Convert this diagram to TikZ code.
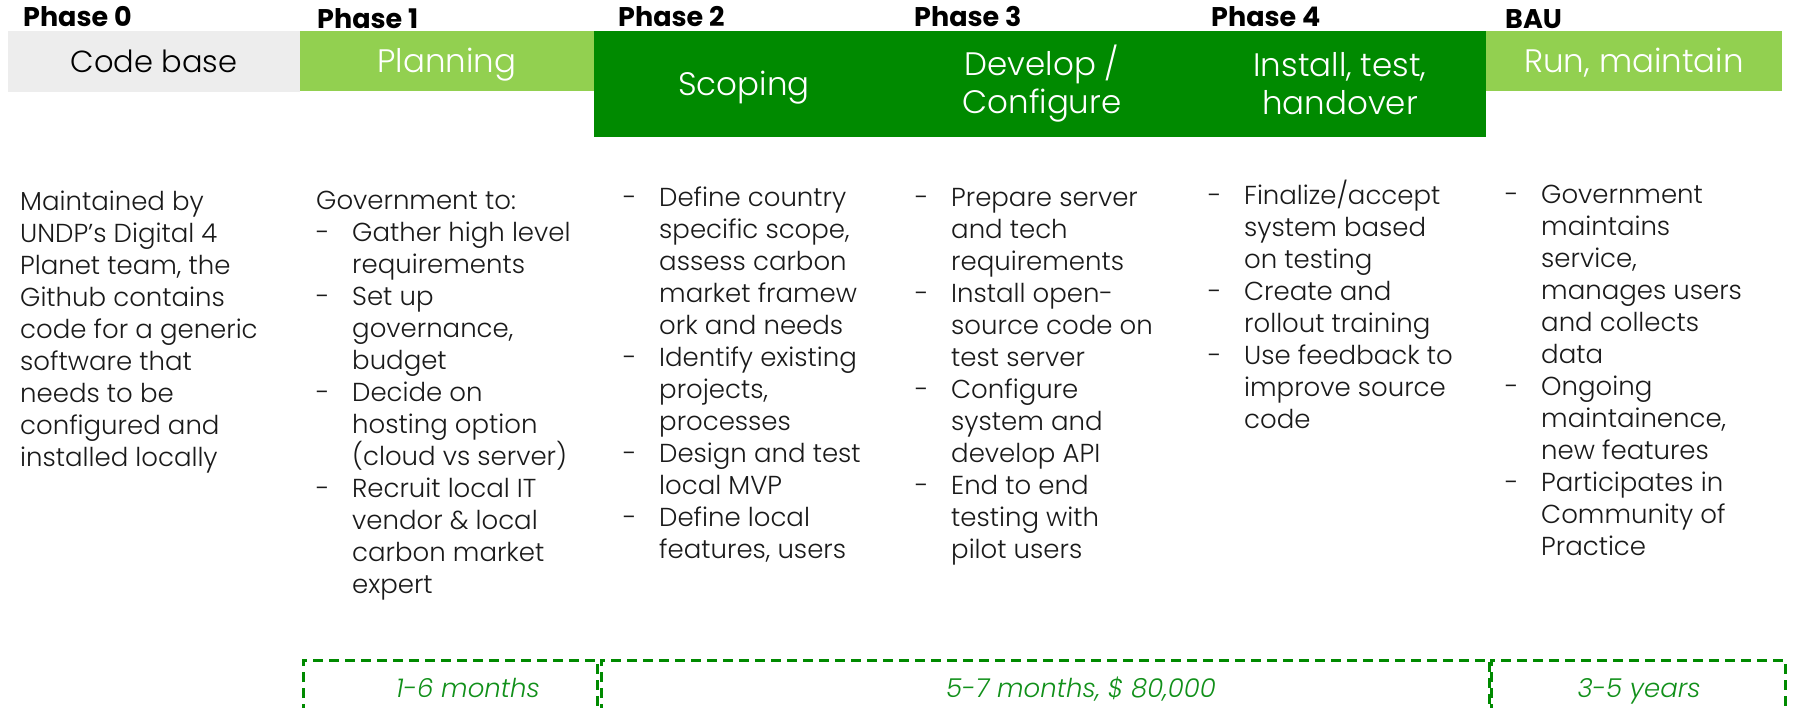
\documentclass[tikz,border=0pt]{standalone}
\usepackage{fontspec}
\setmainfont{Poppins}
\newfontfamily\lightfont{Poppins Light}
\definecolor{lgreen}{HTML}{92D050}
\definecolor{dgreen}{HTML}{008A00}
\definecolor{cbgrey}{HTML}{EDEDED}
\definecolor{txt}{HTML}{1A1A1A}
\definecolor{durgreen}{HTML}{11901A}
\newcommand{\bitem}{\makebox[36pt][l]{-}}
\newcommand{\bcont}{\hspace*{36pt}}
\newcommand{\bodyfont}{\lightfont\fontsize{26}{32}\selectfont}
\tikzset{
  hdrbox/.style={rectangle, inner sep=0pt, outer sep=0pt, anchor=north west},
  hdrtext/.style={inner sep=0pt, align=center, font=\lightfont\fontsize{32.5}{38}\selectfont},
  phaselabel/.style={inner sep=0pt, anchor=base west, font=\fontsize{27}{30}\selectfont\bfseries, text=black},
  bodycol/.style={inner sep=0pt, anchor=base west, text=txt},
  durbox/.style={draw=dgreen, line width=3pt, dash pattern=on 10pt off 6pt},
  durtext/.style={inner sep=0pt, anchor=base, text=durgreen, font=\lightfont\fontsize{26}{32}\selectfont\itshape}
}
\begin{document}
\begin{tikzpicture}[x=1pt,y=-1pt]
\useasboundingbox (0,0) rectangle (1795,708);
\fill[white] (0,0) rectangle (1795,708);

% phase labels
\node[phaselabel] (p0) at (23,26.7) {Phase 0};
\node[phaselabel] (p1) at (317,28.3) {Phase 1};
\node[phaselabel] (p2) at (618,26.7) {Phase 2};
\node[phaselabel] (p3) at (914,26.7) {Phase 3};
\node[phaselabel] (p4) at (1211,26.7) {Phase 4};
\node[phaselabel] (pb) at (1505,28.3) {BAU};

% header boxes
\node[hdrbox, fill=cbgrey, minimum width=292pt, minimum height=61pt] (cbbox) at (8,31) {};
\node[hdrbox, fill=lgreen, minimum width=294pt, minimum height=60pt] (plbox) at (300,31) {};
\node[hdrbox, fill=dgreen, minimum width=892pt, minimum height=106pt] (dkbox) at (594,31) {};
\node[hdrbox, fill=lgreen, minimum width=296pt, minimum height=60pt] (rmbox) at (1486,31) {};

\node[hdrtext, text=black, anchor=base, font=\lightfont\fontsize{30.5}{38}\selectfont] (cbt) at (154,72.7) {Code base};
\node[hdrtext, text=white, anchor=base] (plt) at (447,73) {Planning};
\node[hdrtext, text=white, anchor=base] (sct) at (744,96) {Scoping};
\node[hdrtext, text=white] (dvt) at (1042,84) {Develop /\\Configure};
\node[hdrtext, text=white] (ist) at (1340,84) {Install, test,\\handover};
\node[hdrtext, text=white, anchor=base] (rmt) at (1634,73) {Run, maintain};

% body columns
\node[bodycol] (c0) at (20,211) {\parbox[t]{280pt}{\bodyfont\raggedright
Maintained by\\
UNDP’s Digital 4\\
Planet team, the\\
Github contains\\
code for a generic\\
software that\\
needs to be\\
configured and\\
installed locally}};

\node[bodycol] (c1) at (316,210) {\parbox[t]{290pt}{\bodyfont\raggedright
Government to:\\
\bitem Gather high level\\
\bcont requirements\\
\bitem Set up\\
\bcont governance,\\
\bcont budget\\
\bitem Decide on\\
\bcont hosting option\\
\bcont (cloud vs server)\\
\bitem Recruit local IT\\
\bcont vendor \& local\\
\bcont carbon market\\
\bcont expert}};

\node[bodycol] (c2) at (623,207) {\parbox[t]{290pt}{\bodyfont\raggedright
\bitem Define country\\
\bcont specific scope,\\
\bcont assess carbon\\
\bcont market framew\\
\bcont ork and needs\\
\bitem Identify existing\\
\bcont projects,\\
\bcont processes\\
\bitem Design and test\\
\bcont local MVP\\
\bitem Define local\\
\bcont features, users}};

\node[bodycol] (c3) at (915,207) {\parbox[t]{290pt}{\bodyfont\raggedright
\bitem Prepare server\\
\bcont and tech\\
\bcont requirements\\
\bitem Install open-\\
\bcont source code on\\
\bcont test server\\
\bitem Configure\\
\bcont system and\\
\bcont develop API\\
\bitem End to end\\
\bcont testing with\\
\bcont pilot users}};

\node[bodycol] (c4) at (1208,205) {\parbox[t]{290pt}{\bodyfont\raggedright
\bitem Finalize/accept\\
\bcont system based\\
\bcont on testing\\
\bitem Create and\\
\bcont rollout training\\
\bitem Use feedback to\\
\bcont improve source\\
\bcont code}};

\node[bodycol] (c5) at (1505,204) {\parbox[t]{285pt}{\bodyfont\raggedright
\bitem Government\\
\bcont maintains\\
\bcont service,\\
\bcont manages users\\
\bcont and collects\\
\bcont data\\
\bitem Ongoing\\
\bcont maintainence,\\
\bcont new features\\
\bitem Participates in\\
\bcont Community of\\
\bcont Practice}};

% duration boxes
\draw[durbox] (303,730) -- (303,660) -- (597,660) -- (597,730);
\draw[durbox] (601,730) -- (601,660) -- (1489,660) -- (1489,730);
\draw[durbox] (1491,730) -- (1491,660) -- (1785,660) -- (1785,730);
\node[durtext] (d1) at (468,697) {1-6 months};
\node[durtext] (d2) at (1081,697) {5-7 months, \$ 80,000};
\node[durtext] (d3) at (1639,697) {3-5 years};
\end{tikzpicture}
\end{document}
